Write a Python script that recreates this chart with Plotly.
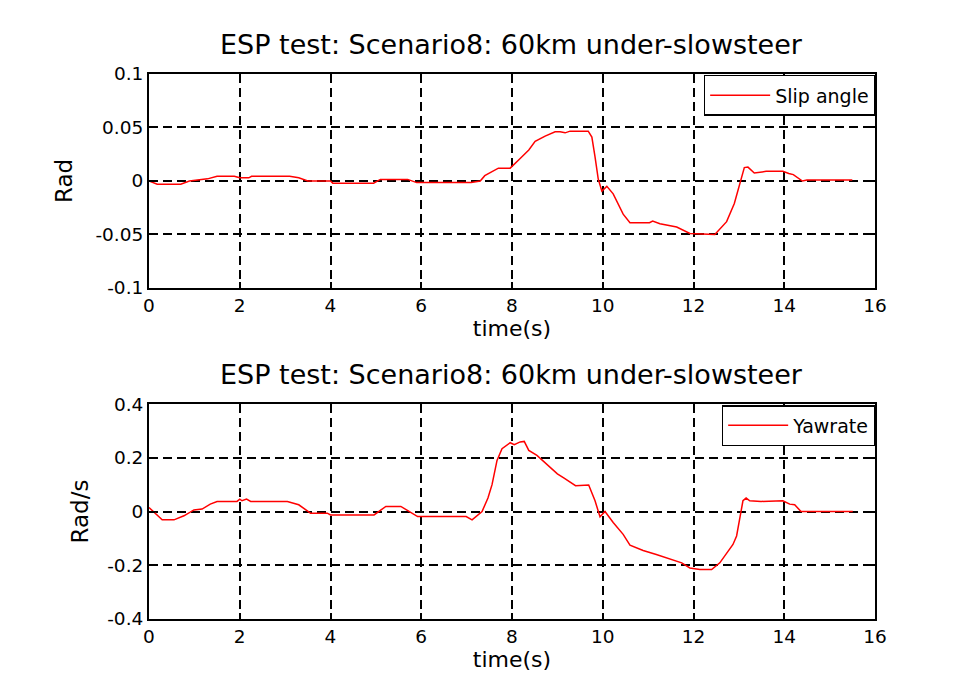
import plotly.graph_objects as go
from plotly.subplots import make_subplots

# slip angle (rad)
slip_t = [0, 0.18, 0.7, 0.89, 1.29, 1.5, 1.88, 2.0, 2.2, 2.26, 3.1, 3.3, 3.5, 4.0, 4.05, 4.95,
          5.1, 5.7, 5.9, 7.1, 7.3, 7.4, 7.7, 7.96, 8.18, 8.37, 8.51, 8.73, 8.95, 9.06, 9.17,
          9.28, 9.68, 9.76, 9.83, 9.9, 9.98, 10.09, 10.23, 10.45, 10.6, 11.03, 11.1, 11.26,
          11.63, 11.92, 12.47, 12.73, 12.9, 13.12, 13.2, 13.34, 13.6, 13.97, 14.1, 14.2, 14.4,
          14.5, 15.5]
slip = [0.0, -0.003, -0.003, 0.0, 0.002, 0.0044, 0.0044, 0.003, 0.003, 0.0044, 0.0044, 0.003,
        0.0, 0.0, -0.002, -0.002, 0.0015, 0.0015, -0.0015, -0.0015, 0.0, 0.005, 0.012, 0.012,
        0.021, 0.029, 0.037, 0.042, 0.046, 0.046, 0.045, 0.0466, 0.0466, 0.041, 0.0225, 0.002,
        -0.0094, -0.005, -0.012, -0.031, -0.039, -0.039, -0.0375, -0.04, -0.043, -0.049, -0.05,
        -0.038, -0.021, 0.0125, 0.013, 0.0075, 0.009, 0.009, 0.007, 0.006, 0.0, 0.001, 0.001]

# yaw rate (rad/s)
yaw_t = [0, 0.29, 0.55, 0.77, 0.99, 1.17, 1.35, 1.5, 1.94, 2.0, 2.05, 2.15, 2.24, 3.05, 3.3,
         3.56, 3.93, 4.0, 4.96, 5.22, 5.55, 5.92, 6.99, 7.12, 7.34, 7.47, 7.56, 7.67, 7.78,
         7.96, 8.05, 8.18, 8.27, 8.37, 8.55, 8.81, 9.0, 9.14, 9.4, 9.69, 9.83, 9.94, 10.05,
         10.23, 10.45, 10.6, 10.89, 11.18, 11.55, 11.74, 11.92, 12.14, 12.4, 12.58, 12.87,
         12.95, 13.09, 13.16, 13.24, 13.49, 13.97, 14.12, 14.23, 14.37, 15.51]
yaw = [0.015, -0.031, -0.031, -0.016, 0.006, 0.009, 0.0275, 0.0375, 0.0375, 0.046, 0.04, 0.046,
       0.0375, 0.0375, 0.025, -0.006, -0.006, -0.0125, -0.0125, 0.019, 0.019, -0.019, -0.019,
       -0.031, 0.0, 0.05, 0.1, 0.19, 0.234, 0.256, 0.249, 0.259, 0.261, 0.2275, 0.209, 0.171,
       0.14, 0.125, 0.096, 0.099, 0.04, -0.02, 0.0, -0.041, -0.085, -0.125, -0.145, -0.16,
       -0.179, -0.191, -0.21, -0.216, -0.216, -0.191, -0.1225, -0.091, 0.04, 0.05, 0.04,
       0.0375, 0.04, 0.0275, 0.025, 0.0, 0.0]

title_text = "ESP test: Scenario8: 60km under-slowsteer"
x_ticks = [0, 2, 4, 6, 8, 10, 12, 14, 16]
slip_ticks = [-0.1, -0.05, 0, 0.05, 0.1]
slip_labels = ["-0.1", "-0.05", "0", "0.05", "0.1"]
yaw_ticks = [-0.4, -0.2, 0, 0.2, 0.4]
yaw_labels = ["-0.4", "-0.2", "0", "0.2", "0.4"]

font = "DejaVu Sans, Arial, sans-serif"

fig = make_subplots(rows=2, cols=1)
fig.add_trace(go.Scatter(x=slip_t, y=slip, mode="lines", name="Slip angle", showlegend=True,
                         line=dict(color="red", width=1.5), legend="legend"), row=1, col=1)
fig.add_trace(go.Scatter(x=yaw_t, y=yaw, mode="lines", name="Yawrate", showlegend=True,
                         line=dict(color="red", width=1.5), legend="legend2"), row=2, col=1)

axis_style = dict(showline=True, linecolor="black", linewidth=2, mirror="ticks",
                  ticks="inside", ticklen=6, tickwidth=1.5, tickcolor="black",
                  showgrid=True, gridcolor="black", gridwidth=1.6, griddash="9px,5px",
                  zeroline=False, automargin=False,
                  tickfont=dict(size=18.5, color="black", family=font))

fig.update_xaxes(axis_style)
fig.update_yaxes(axis_style)
# page body has an 8px margin, domains are shifted to compensate
fig.update_xaxes(range=[0, 16], tickvals=x_ticks, domain=[0.1478, 0.9088])
fig.update_xaxes(title=dict(text="time(s)", font=dict(size=22, color="black", family=font),
                            standoff=2))
fig.update_yaxes(range=[-0.1, 0.1], tickvals=slip_ticks, ticktext=slip_labels,
                 domain=[0.5983, 0.9053], row=1, col=1,
                 title=dict(text="Rad", font=dict(size=23, color="black", family=font), standoff=16))
fig.update_yaxes(range=[-0.4, 0.4], tickvals=yaw_ticks, ticktext=yaw_labels,
                 domain=[0.1234, 0.4318], row=2, col=1,
                 title=dict(text="Rad/s", font=dict(size=23, color="black", family=font), standoff=12))

legend_style = dict(bgcolor="white", bordercolor="black", borderwidth=1.5,
                    font=dict(size=19, color="black", family=font),
                    xanchor="right", yanchor="top", x=0.9095, itemwidth=60)
fig.update_layout(
    width=954, height=697, margin=dict(l=0, r=0, t=0, b=0),
    paper_bgcolor="white", plot_bgcolor="white", showlegend=True,
    legend=dict(legend_style, y=0.9039),
    legend2=dict(legend_style, y=0.4304),
    annotations=[
        dict(text=title_text, x=0.5278, y=0.947, xref="paper", yref="paper", showarrow=False,
             yanchor="middle", font=dict(size=27, color="black", family=font)),
        dict(text=title_text, x=0.5278, y=0.4735, xref="paper", yref="paper", showarrow=False,
             yanchor="middle", font=dict(size=27, color="black", family=font)),
    ],
)

fig.write_html("out.html")
